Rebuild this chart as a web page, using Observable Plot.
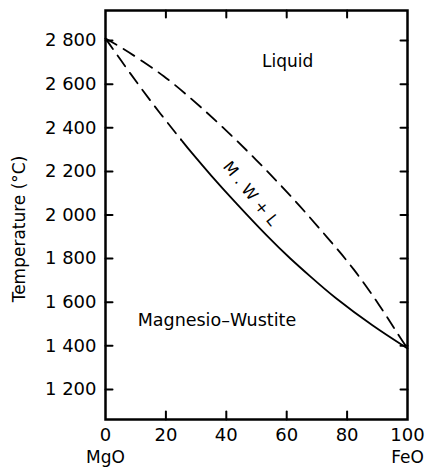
<!DOCTYPE html>
<html>
<head>
<meta charset="utf-8">
<script src="https://cdn.jsdelivr.net/npm/d3@7"></script>
<script src="https://cdn.jsdelivr.net/npm/@observablehq/plot@0.6"></script>
<style>
  html, body { margin: 0; padding: 0; background: #fff; }
</style>
</head>
<body>
<div id="chart"></div>
<script>
// Liquidus (upper dashed curve): mol % FeO vs temperature (°C)
const liquidusX = [0, 5.5, 12.7, 19.3, 25.9, 37.7, 49.9, 61.8, 74, 82.1, 91.1, 97.7, 100];
const liquidusT = [2810, 2766, 2702, 2638, 2564, 2420, 2254, 2083, 1888, 1757, 1580, 1434, 1388];
// Solidus, dashed (uncertain) part
const solidusDashX = [0, 6.6, 11.6, 15.9, 20.5, 25];
const solidusDashT = [2810, 2680, 2585, 2505, 2424, 2346];
// Solidus, solid part
const solidusX = [25, 28.1, 35, 42.4, 54, 61.3, 68, 75.5, 88.7, 100];
const solidusT = [2346, 2292, 2180, 2066, 1895, 1798, 1716, 1624, 1488, 1388];

const xTicks = [0, 20, 40, 60, 80, 100];
const xInnerTicks = [20, 40, 60, 80];
const yTicks = [1200, 1400, 1600, 1800, 2000, 2200, 2400, 2600, 2800];
const endLabels = [{x: 0, text: "MgO"}, {x: 100, text: "FeO"}];
const yLabel = "Temperature (\u00b0C)";
const regionLabels = [
  {x: 60.3, y: 2704, text: "Liquid", rotate: 0, size: 17},
  {x: 36.9, y: 1516, text: "Magnesio\u2013Wustite", rotate: 0, size: 17.5},
  {x: 48, y: 2098, text: "M . W + L", rotate: 51, size: 16}
];

const toPts = (xs, ts) => xs.map((x, i) => ({x, t: ts[i]}));
const liquidus = toPts(liquidusX, liquidusT);
const solidusDash = toPts(solidusDashX, solidusDashT);
const solidus = toPts(solidusX, solidusT);

const tickShape = {draw(context, l) { context.moveTo(0, 0); context.lineTo(0, -l); }};
const fmt = d => d3.format(",")(d).replace(",", " ");

const chart = Plot.plot({
  width: 426,
  height: 467,
  marginLeft: 105,
  marginRight: 19,
  marginTop: 10,
  marginBottom: 48,
  style: {fontFamily: "DejaVu Sans", color: "black", background: "white"},
  x: {domain: [0, 100]},
  y: {domain: [1062, 2938]},
  marks: [
    Plot.axisY(yTicks, {tickSize: 0, tickPadding: 9, tickFormat: fmt, fontSize: 18, label: null}),
    Plot.axisX(xTicks, {tickSize: 0, tickPadding: 9, tickFormat: d => String(d), fontSize: 18, label: null}),
    Plot.text(endLabels, {x: "x", text: "text", frameAnchor: "bottom", lineAnchor: "middle", textAnchor: "middle", dy: 38, fontSize: 17}),
    Plot.text([yLabel], {frameAnchor: "left", textAnchor: "middle", lineAnchor: "middle", rotate: -90, dx: -86, dy: 14, fontSize: 17}),
    Plot.vector(yTicks, {y: d => d, frameAnchor: "left", length: 7, rotate: 90, anchor: "start", shape: tickShape, strokeWidth: 2}),
    Plot.vector(yTicks, {y: d => d, frameAnchor: "right", length: 7, rotate: -90, anchor: "start", shape: tickShape, strokeWidth: 2}),
    Plot.vector(xInnerTicks, {x: d => d, frameAnchor: "top", length: 7, rotate: 180, anchor: "start", shape: tickShape, strokeWidth: 2}),
    Plot.vector(xInnerTicks, {x: d => d, frameAnchor: "bottom", length: 8, rotate: 0, anchor: "start", shape: tickShape, strokeWidth: 2}),
    Plot.line(liquidus, {x: "x", y: "t", curve: "basis", strokeWidth: 1.8, strokeDasharray: "13,8"}),
    Plot.line(solidusDash, {x: "x", y: "t", curve: "basis", strokeWidth: 1.8, strokeDasharray: "13,8"}),
    Plot.line(solidus, {x: "x", y: "t", curve: "basis", strokeWidth: 1.8}),
    Plot.text(regionLabels, {x: "x", y: "y", text: "text", rotate: "rotate", fontSize: d => d.size}),
    Plot.frame({strokeWidth: 2.5})
  ]
});
document.getElementById("chart").append(chart);
</script>
</body>
</html>
